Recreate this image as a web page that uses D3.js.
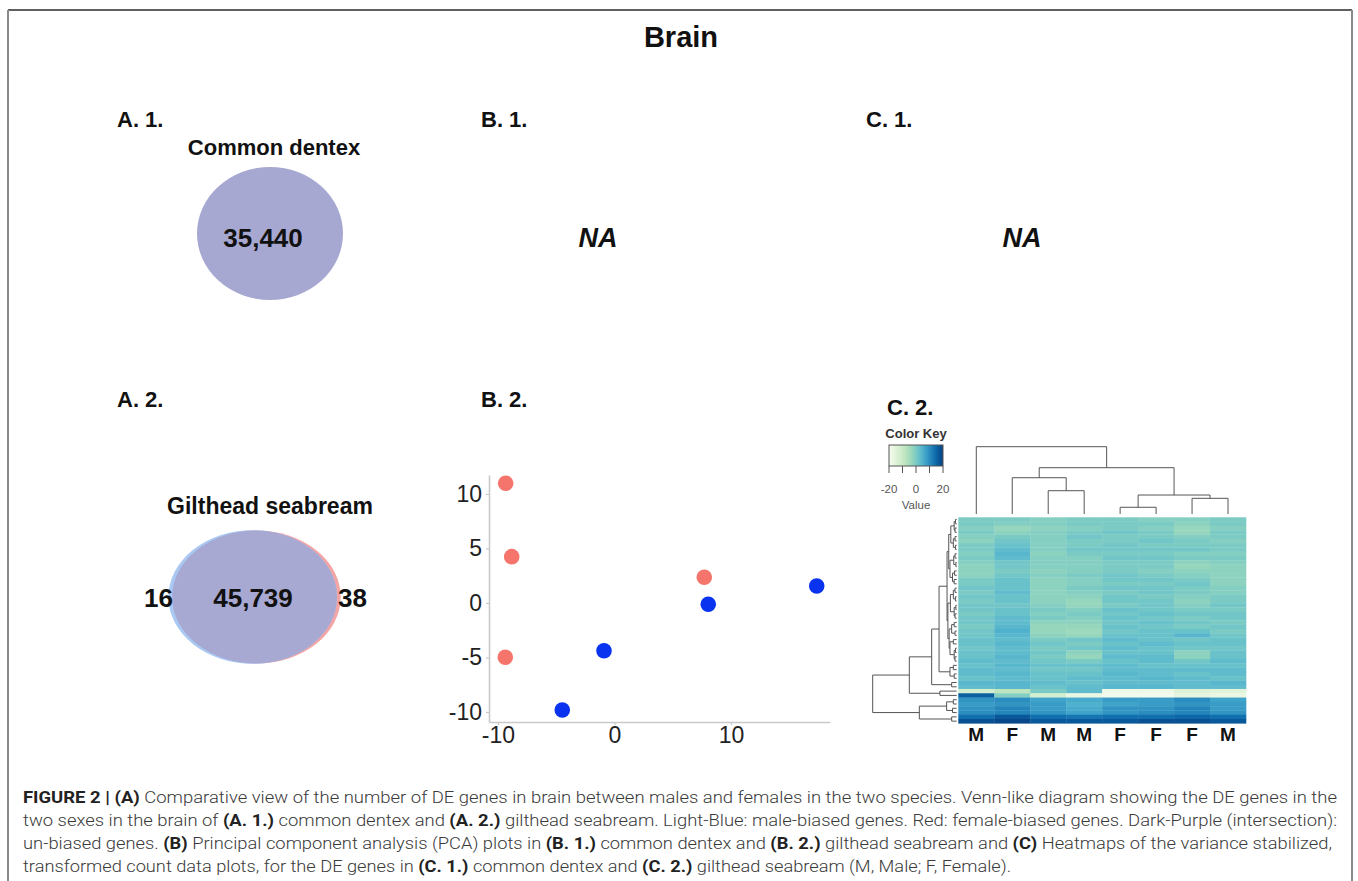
<!DOCTYPE html>
<html>
<head>
<meta charset="utf-8">
<script src="https://cdn.jsdelivr.net/npm/d3@7"></script>
<style>
  body { margin: 0; background: #fff; }
  svg { display: block; font-family: "Liberation Sans", Arial, sans-serif; }
</style>
</head>
<body>
<div id="chart"></div>
<script>
// ---- data ----
const figTitle = 'Brain';
const panelLabels = ['A. 1.', 'B. 1.', 'C. 1.', 'A. 2.', 'B. 2.', 'C. 2.'];
const vennTitles = ['Common dentex', 'Gilthead seabream'];
const dentexCounts = ['35,440'];
const seabreamCounts = ['16', '45,739', '38'];   // male-only, shared, female-only

// PCA coordinates (PC1, PC2)
const pcaRed = [[-9.34, 10.98], [-8.82, 4.25], [7.71, 2.36], [-9.37, -4.98]];
const pcaBlue = [[17.36, 1.56], [8.05, -0.12], [-0.90, -4.38], [-4.48, -9.82]];
const pcaYTicks = [-10, -5, 0, 5, 10];
const pcaXTicks = [-10, 0, 10];

// heatmap
const sampleSex = ['M', 'F', 'M', 'M', 'F', 'F', 'F', 'M'];
const keyTicks = [-20, -10, 0, 10, 20];
const keyLabels = [-20, 0, 20];
const heatValues = [
  [0, 0, -1, 0, 0, -1, -1, 0],
  [0, -1, -1, 0, 0, 0, -2, 0],
  [-1, -3, -2, -1, 0, -1, -3, -1],
  [0, -2, -1, 0, 1, 0, -3, 0],
  [-1, 0, -1, 1, 0, 0, -1, 0],
  [-2, 1, -1, 0, 0, 1, 0, -1],
  [0, 2, -1, 0, 1, 0, 0, 0],
  [0, 3, -1, 1, 1, 1, 1, 0],
  [-1, 4, -2, 0, 0, 0, -1, -1],
  [0, 3, -1, -1, 1, 1, 0, 0],
  [-1, 1, -1, -1, 0, 0, -2, -1],
  [-2, 1, -1, -1, 0, 0, -3, -2],
  [-2, 0, -2, -1, 0, -1, -2, -2],
  [-2, 1, -1, 0, 1, 0, -1, -2],
  [0, 2, -2, -1, 1, 1, 0, -2],
  [0, 2, -2, -1, 0, 0, 1, -2],
  [1, 2, -2, 0, 1, 1, 0, -1],
  [0, 3, -2, -1, 0, 1, 0, -1],
  [1, 2, -2, -2, 1, 0, -1, 0],
  [0, 2, -2, -3, 1, 1, -2, 0],
  [1, 1, -1, -3, 0, 1, -1, 1],
  [1, 2, 0, -1, 2, 1, 0, 0],
  [0, 2, -1, 0, 1, 2, 1, 1],
  [1, 3, 0, -1, 2, 1, 0, 1],
  [1, 3, -2, -2, 1, 2, 1, 0],
  [0, 4, -3, -3, 2, 1, 0, 1],
  [1, 5, -3, -4, 1, 2, 2, 0],
  [1, 4, -2, -3, 2, 2, 4, 1],
  [2, 3, 0, 1, 3, 2, 1, 2],
  [2, 4, 1, 0, 2, 3, 2, 2],
  [1, 3, 0, 1, 3, 2, 1, 1],
  [2, 3, 1, -2, 2, 2, -2, 2],
  [2, 4, 0, -3, 3, 3, -2, 2],
  [3, 3, 1, 0, 2, 3, 1, 3],
  [2, 4, 2, 2, 3, 2, 2, 2],
  [3, 3, 1, 1, 3, 3, 3, 3],
  [3, 4, 2, 2, 4, 3, 2, 3],
  [2, 3, 2, 3, 3, 4, 3, 2],
  [4, 4, 3, 2, 3, 3, 3, 4],
  [3, 4, 2, 3, 4, 4, 3, 3],
  [-12, -8, 0, 3, -18, -18, -14, -15],
  [16, -1, -12, -17, -19, -19, -16, -17],
  [9, 10, 7, 6, 8, 8, 10, 7],
  [8, 9, 8, 5, 7, 8, 9, 8],
  [9, 11, 8, 6, 9, 9, 11, 8],
  [10, 11, 9, 7, 9, 10, 11, 9],
  [14, 17, 14, 13, 14, 14, 15, 14],
  [18, 19, 17, 17, 17, 18, 18, 17]
];

// dendrograms as [height, left, right]; leaves are column / row indices
const colTree = [100, 0, [68.8, [53.9, 1, [34.6, 2, 3]], [28.2, [10, 4, 5], [23.3, 6, 7]]]];
const rowTree = [100,
  [56.4,
    [29.8,
      [21,
        [11.5,
          [9.5,
            [7, [3, [1.5, 0, 1], [2, 2, 3]], [4, [2, 4, 5], [1.5, 6, 7]]],
            [8, [3.5, [2, 8, 9], [1, 10, 11]], [5, [2.5, 12, 13], [3, 14, 15]]]],
          [10.5,
            [7.5, [4, [2, 16, 17], [1.5, 18, 19]], [3, [1, 20, 21], [2, 22, 23]]],
            [9, [6, [3, 24, 25], [2, 26, 27]], [8, [4, 28, 29], [3, [1.5, 30, 31], [2, 32, 33]]]]]],
        [8, [4, 34, 35], [3, 36, 37]]],
      [6, 38, 39]],
    [20, 40, 41]],
  [44.5, [12, [4, 42, 43], [5, 44, 45]], [6, 46, 47]]
];

const captionLines = [
  [['FIGURE 2 | (A)', true], [' Comparative view of the number of DE genes in brain between males and females in the two species. Venn-like diagram showing the DE genes in the', false]],
  [['two sexes in the brain of ', false], ['(A. 1.)', true], [' common dentex and ', false], ['(A. 2.)', true], [' gilthead seabream. Light-Blue: male-biased genes. Red: female-biased genes. Dark-Purple (intersection):', false]],
  [['un-biased genes. ', false], ['(B)', true], [' Principal component analysis (PCA) plots in ', false], ['(B. 1.)', true], [' common dentex and ', false], ['(B. 2.)', true], [' gilthead seabream and ', false], ['(C)', true], [' Heatmaps of the variance stabilized,', false]],
  [['transformed count data plots, for the DE genes in ', false], ['(C. 1.)', true], [' common dentex and ', false], ['(C. 2.)', true], [' gilthead seabream (M, Male; F, Female).', false]]
];

// ---- drawing ----
const W = 1358, H = 881;
const svg = d3.select('#chart').append('svg').attr('width', W).attr('height', H);

// frame
svg.append('line').attr('x1', 8).attr('x2', 1352).attr('y1', 10).attr('y2', 10)
  .attr('stroke', '#2b2b2b').attr('stroke-width', 1.5);
[8, 1352].forEach(x => svg.append('line').attr('x1', x).attr('x2', x).attr('y1', 10).attr('y2', H)
  .attr('stroke', '#8a8a8a').attr('stroke-width', 2));

svg.append('text').attr('x', 681).attr('y', 47).attr('text-anchor', 'middle')
  .attr('font-size', 29).attr('font-weight', 'bold').attr('fill', '#111').text(figTitle);

const labelPos = [[117, 127], [481, 127], [866, 127], [117, 407], [481, 407], [887, 415]];
svg.selectAll('text.panel').data(panelLabels).enter().append('text')
  .attr('class', 'panel')
  .attr('x', (d, i) => labelPos[i][0]).attr('y', (d, i) => labelPos[i][1])
  .attr('font-size', 22).attr('font-weight', 'bold').attr('fill', '#111').text(d => d);

// NA panels
[598, 1022].forEach(x => svg.append('text').attr('x', x).attr('y', 247).attr('text-anchor', 'middle')
  .attr('font-size', 27).attr('font-weight', 'bold').attr('font-style', 'italic').attr('fill', '#111').text('NA'));

// ---- Venn A.1 ----
svg.append('text').attr('x', 274).attr('y', 155).attr('text-anchor', 'middle')
  .attr('font-size', 22).attr('font-weight', 'bold').attr('fill', '#111').text(vennTitles[0]);
svg.append('ellipse').attr('cx', 270).attr('cy', 233.5).attr('rx', 73).attr('ry', 66.5).attr('fill', '#a6a8d2');
svg.append('text').attr('x', 263).attr('y', 247).attr('text-anchor', 'middle')
  .attr('font-size', 26).attr('font-weight', 'bold').attr('fill', '#111').text(dentexCounts[0]);

// ---- Venn A.2 ----
svg.append('text').attr('x', 270).attr('y', 514).attr('text-anchor', 'middle')
  .attr('font-size', 23).attr('font-weight', 'bold').attr('fill', '#111').text(vennTitles[1]);
const blueE = {cx: 252.7, cy: 597, rx: 84.3, ry: 66.8};
const redE = {cx: 256.4, cy: 597, rx: 84.3, ry: 66.5};
const defs = svg.append('defs');
defs.append('clipPath').attr('id', 'blueClip').append('ellipse')
  .attr('cx', blueE.cx).attr('cy', blueE.cy).attr('rx', blueE.rx).attr('ry', blueE.ry);
svg.append('ellipse').attr('cx', redE.cx).attr('cy', redE.cy).attr('rx', redE.rx).attr('ry', redE.ry).attr('fill', '#f3a4a4');
svg.append('ellipse').attr('cx', blueE.cx).attr('cy', blueE.cy).attr('rx', blueE.rx).attr('ry', blueE.ry).attr('fill', '#a9c9f3');
svg.append('ellipse').attr('cx', redE.cx).attr('cy', redE.cy).attr('rx', redE.rx).attr('ry', redE.ry)
  .attr('fill', '#a7a9d3').attr('clip-path', 'url(#blueClip)');
const vennX = [158.5, 253, 352.5];
svg.selectAll('text.vcount').data(seabreamCounts).enter().append('text').attr('class', 'vcount')
  .attr('x', (d, i) => vennX[i]).attr('y', 607).attr('text-anchor', 'middle')
  .attr('font-size', 26).attr('font-weight', 'bold').attr('fill', '#111').text(d => d);

// ---- PCA B.2 ----
const px = d3.scaleLinear().domain([-10.77, 18.5]).range([489, 830]);
const py = d3.scaleLinear().domain([-10.92, 11.74]).range([722, 475]);
const pca = svg.append('g');
const yAx = pca.append('g').attr('transform', `translate(${px.range()[0]},0)`)
  .call(d3.axisLeft(py).tickValues(pcaYTicks).tickFormat(d => String(d))
    .tickSize(3).tickSizeOuter(0).tickPadding(4));
const xAx = pca.append('g').attr('transform', `translate(0,${py.range()[0]})`)
  .call(d3.axisBottom(px).tickValues(pcaXTicks).tickFormat(d => String(d))
    .tickSize(3).tickSizeOuter(0).tickPadding(2));
[xAx, yAx].forEach(a => {
  a.select('.domain').attr('stroke', '#c9c9c9').attr('stroke-width', 1.6);
  a.selectAll('.tick line').attr('stroke', '#c9c9c9').attr('stroke-width', 1.2);
  a.selectAll('.tick text').attr('font-size', 23).attr('fill', '#222')
    .attr('font-family', '"Liberation Sans", Arial, sans-serif');
});
pca.selectAll('circle.red').data(pcaRed).enter().append('circle').attr('class', 'red')
  .attr('cx', d => px(d[0])).attr('cy', d => py(d[1])).attr('r', 7.8).attr('fill', '#f5756c');
pca.selectAll('circle.blue').data(pcaBlue).enter().append('circle').attr('class', 'blue')
  .attr('cx', d => px(d[0])).attr('cy', d => py(d[1])).attr('r', 7.8).attr('fill', '#0a33f0');

// ---- Heatmap C.2 ----
const color = d3.scaleSequential(d3.interpolateGnBu).domain([-20, 20]);
const hx = d3.scaleBand().domain(d3.range(sampleSex.length)).range([958.3, 1246]);
const hy = d3.scaleBand().domain(d3.range(heatValues.length)).range([517.3, 723.3]);
const hm = svg.append('g');
heatValues.forEach((row, r) => {
  hm.selectAll(null).data(row).enter().append('rect')
    .attr('x', (d, c) => hx(c)).attr('y', hy(r))
    .attr('width', hx.bandwidth() + 0.3).attr('height', hy.bandwidth() + 0.3)
    .attr('fill', d => color(d));
});
hm.selectAll('text.sex').data(sampleSex).enter().append('text').attr('class', 'sex')
  .attr('x', (d, i) => hx(i) + hx.bandwidth() / 2).attr('y', 741).attr('text-anchor', 'middle')
  .attr('font-size', 19).attr('font-weight', 'bold').attr('fill', '#111').text(d => d);

function dendro(tree, leafPos, hPos, vertical) {
  const g = svg.append('g').attr('fill', 'none').attr('stroke', '#555').attr('stroke-width', 1);
  function walk(node) {
    if (typeof node === 'number') return {p: leafPos(node), h: 0};
    const [h, a, b] = node;
    const l = walk(a), r = walk(b);
    const hp = hPos(h);
    const d = vertical
      ? `M${l.p},${hPos(l.h)}V${hp}H${r.p}V${hPos(r.h)}`
      : `M${hPos(l.h)},${l.p}H${hp}V${r.p}H${hPos(r.h)}`;
    g.append('path').attr('d', d);
    return {p: (l.p + r.p) / 2, h};
  }
  walk(tree);
}
dendro(colTree, i => hx(i) + hx.bandwidth() / 2, d3.scaleLinear().domain([0, 100]).range([514, 446.7]), true);
dendro(rowTree, i => hy(i) + hy.bandwidth() / 2, d3.scaleLinear().domain([0, 100]).range([956.7, 872.7]), false);

// colour key
const grad = defs.append('linearGradient').attr('id', 'keyGrad');
d3.range(0, 1.0001, 0.1).forEach(t => grad.append('stop')
  .attr('offset', t).attr('stop-color', color(-20 + 40 * t)));
const kx = d3.scaleLinear().domain([-20, 20]).range([889, 943]);
svg.append('text').attr('x', 916).attr('y', 438).attr('text-anchor', 'middle')
  .attr('font-size', 13).attr('font-weight', 'bold').attr('fill', '#333').text('Color Key');
svg.append('rect').attr('x', 889).attr('y', 445).attr('width', 54).attr('height', 21)
  .attr('fill', 'url(#keyGrad)').attr('stroke', '#555').attr('stroke-width', 1);
svg.selectAll('line.kt').data(keyTicks).enter().append('line').attr('class', 'kt')
  .attr('x1', d => kx(d)).attr('x2', d => kx(d)).attr('y1', 466).attr('y2', 473)
  .attr('stroke', '#555').attr('stroke-width', 1);
svg.selectAll('text.kl').data(keyLabels).enter().append('text').attr('class', 'kl')
  .attr('x', d => kx(d)).attr('y', 493).attr('text-anchor', 'middle')
  .attr('font-size', 11.5).attr('fill', '#555').text(d => d);
svg.append('text').attr('x', 916).attr('y', 509).attr('text-anchor', 'middle')
  .attr('font-size', 11.5).attr('fill', '#555').text('Value');

// ---- caption ----
const capY = [803, 826, 849, 872];
const capLen = [1314, 1314, 1309, 988];
captionLines.forEach((segs, i) => {
  const t = svg.append('text').attr('x', 23).attr('y', capY[i])
    .attr('font-family', 'Roboto, "Liberation Sans", sans-serif')
    .attr('font-size', 17).attr('fill', '#3a3a3a')
    .attr('textLength', capLen[i]).attr('lengthAdjust', 'spacingAndGlyphs');
  segs.forEach(([s, b]) => t.append('tspan').attr('font-weight', b ? 'bold' : 300)
    .attr('fill', b ? '#222' : '#3a3a3a').text(s));
});
</script>
</body>
</html>
